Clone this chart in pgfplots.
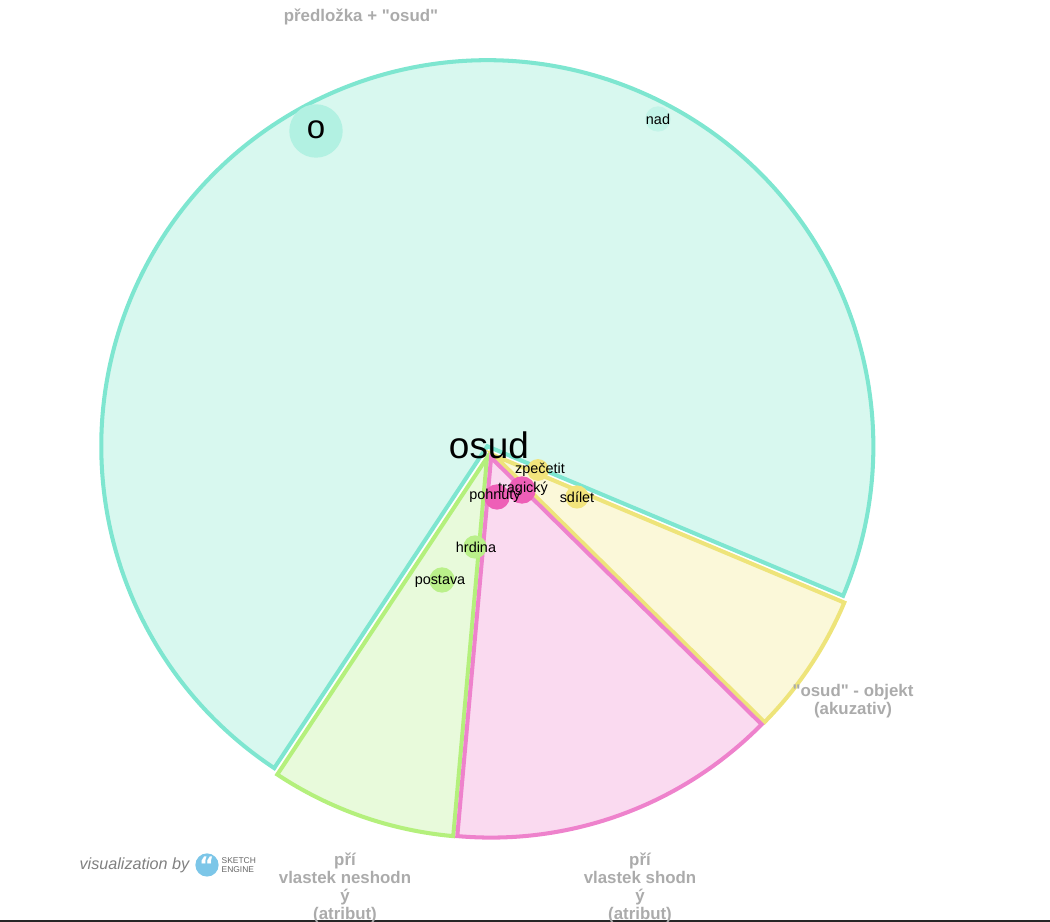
\documentclass[border=0pt]{standalone}
\usepackage{pgfplots}
\pgfplotsset{compat=1.18}
\usepackage{fontspec}
\setmainfont{Liberation Sans}
\newfontfamily\qf{Liberation Sans}
\newfontfamily\dejavu{DejaVu Sans}
\newcommand{\q}{{\qf"}}
\definecolor{tealS}{HTML}{7EE6D0}
\definecolor{tealF}{HTML}{D8F8EF}
\definecolor{yelS}{HTML}{EEE47A}
\definecolor{yelF}{HTML}{FBF8D9}
\definecolor{pinkS}{HTML}{EE82CC}
\definecolor{pinkF}{HTML}{FADAF0}
\definecolor{grnS}{HTML}{B4F07C}
\definecolor{grnF}{HTML}{E8FADB}
\definecolor{dotO}{HTML}{B2F1E2}
\definecolor{dotNad}{HTML}{C3F4E8}
\definecolor{dotY}{HTML}{F2E47C}
\definecolor{dotP}{HTML}{EE5FB7}
\definecolor{dotG}{HTML}{BAF08A}
\definecolor{lbl}{HTML}{ABABAB}
\definecolor{logo}{HTML}{7CC6E8}
\begin{document}
\begin{tikzpicture}
\begin{axis}[
  x=1cm, y=1cm, scale only axis, disabledatascaling,
  xmin=0, xmax=10.5, ymin=0, ymax=9.22,
  hide axis, clip=true,
  every axis plot/.append style={line join=miter},
  dot/.style={only marks, mark=*, color=#1, mark options={draw=#1, fill=#1}},
  lab/.style={only marks, mark=none, point meta=explicit symbolic, nodes near coords,
    every node near coord/.style={anchor=center, inner sep=0pt, text=black,
      font=\fontsize{4.1}{5}\selectfont}},
]
% sectors: apex, start point on arc, start/end angle, radius
\addplot[draw=tealS, fill=tealF, line width=1.15pt] coordinates {(4.8726,4.7574) (8.4311,3.2616)} arc[start angle=-22.8, end angle=236.5, radius=3.86] -- cycle;
\addplot[draw=grnS, fill=grnF, line width=1.15pt] coordinates {(4.8702,4.6434) (2.7730,1.4746)} arc[start angle=-123.5, end angle=-95.1, radius=3.80] -- cycle;
\addplot[draw=yelS, fill=yelF, line width=1.15pt] coordinates {(4.9399,4.6667) (7.6455,1.9983)} arc[start angle=-44.6, end angle=-22.8, radius=3.80] -- cycle;
\addplot[draw=pinkS, fill=pinkF, line width=1.15pt] coordinates {(4.9107,4.6437) (4.5729,0.8589)} arc[start angle=-95.1, end angle=-44.6, radius=3.80] -- cycle;
% collocation dots
\addplot[dot=dotO, mark size=7.4pt] coordinates {(3.16,7.91)};
\addplot[dot=dotNad, mark size=3.4pt] coordinates {(6.58,8.03)};
\addplot[dot=dotY, mark size=2.9pt] coordinates {(5.38,4.52)};
\addplot[dot=dotY, mark size=3.1pt] coordinates {(5.77,4.25)};
\addplot[dot=dotP, mark size=3.4pt] coordinates {(4.97,4.25)};
\addplot[dot=dotP, mark size=3.7pt] coordinates {(5.22,4.32)};
\addplot[dot=dotG, mark size=3.1pt] coordinates {(4.75,3.75)};
\addplot[dot=dotG, mark size=3.4pt] coordinates {(4.42,3.42)};
% labels of collocations
\addplot[lab, every node near coord/.append style={font=\fontsize{9.4}{11}\selectfont}] coordinates {(3.16,7.92) [o]};
\addplot[lab] coordinates {
  (6.58,8.03) [nad]
  (5.40,4.52) [zpečetit]
  (4.95,4.26) [pohnutý]
  (5.23,4.33) [tragický]
  (5.77,4.25) [sdílet]
  (4.76,3.75) [hrdina]
  (4.40,3.41) [postava]
};
% logo circle
\addplot[dot=logo, mark size=3.1pt] coordinates {(2.07,0.57)};
\addplot[lab, every node near coord/.append style={text=white, font=\dejavu\fontsize{6.5}{6.5}\selectfont\bfseries}] coordinates {(2.07,0.565) [“]};
% bottom rule
\addplot[draw=black!85, line width=0.6pt] coordinates {(0,0.012) (10.5,0.012)};
% labels
\node[font=\fontsize{10.5}{12}\selectfont] at (axis cs:4.89,4.77) {osud};
\begin{scope}[every node/.style={font=\fontsize{4.8}{5.1}\selectfont\bfseries, text=lbl, align=center, inner sep=0pt}]
\node at (axis cs:3.61,9.05) {předložka + \q osud\q};
\node at (axis cs:8.53,2.21) {\q osud\q\ - objekt\\(akuzativ)};
\node[anchor=north] at (axis cs:6.40,0.695) {pří\\vlastek shodn\\ý\\(atribut)};
\node[anchor=north] at (axis cs:3.45,0.695) {pří\\vlastek neshodn\\ý\\(atribut)};
\end{scope}
\node[font=\fontsize{4.6}{5}\selectfont\itshape, text=black!50, anchor=east, inner sep=0pt] at (axis cs:1.90,0.565) {visualization by};
\node[font=\fontsize{2.4}{2.6}\selectfont, text=black!60, align=left, anchor=west, inner sep=0pt] at (axis cs:2.21,0.57) {SKETCH\\ENGINE};
\end{axis}
\pgfresetboundingbox
\useasboundingbox (current axis.south west) rectangle (current axis.north east);
\end{tikzpicture}
\end{document}
